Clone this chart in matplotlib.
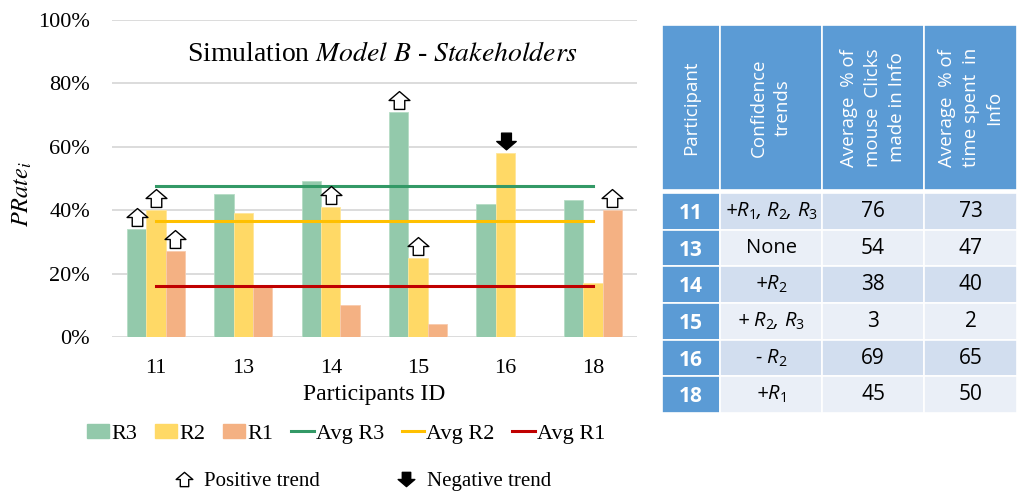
import numpy as np
import matplotlib
matplotlib.use("Agg")
import matplotlib.pyplot as plt
from matplotlib.path import Path
from matplotlib.patches import Patch, Rectangle
from matplotlib.lines import Line2D
from matplotlib.ticker import PercentFormatter
from matplotlib.transforms import offset_copy

# data
participants = ['11', '13', '14', '15', '16', '18']
r3 = [34, 45, 49, 71, 42, 43]
r2 = [40, 39, 41, 25, 58, 17]
r1 = [27, 16, 10, 4, 0, 40]
avg_r3 = 47.5
avg_r2 = 36.6
avg_r1 = 16.0

# trend markers (index of participant per series)
pos_r3 = [0, 3]
pos_r2 = [0, 2, 3]
pos_r1 = [0, 5]
neg_r2 = [4]

# table
trends = ['+$R_\\mathit{1}$, $R_\\mathit{2}$, $R_\\mathit{3}$', 'None', '+$R_\\mathit{2}$',
          '+ $R_\\mathit{2}$, $R_\\mathit{3}$', '- $R_\\mathit{2}$', '+$R_\\mathit{1}$']
clicks = [76, 54, 38, 3, 69, 45]
time_spent = [73, 47, 40, 2, 65, 50]
headers = ['Participant', 'Confidence\ntrends', 'Average  % of\nmouse  Clicks\nmade in Info',
           'Average  % of\ntime spent  in\nInfo']

plt.rcParams['font.family'] = ['Liberation Serif', 'DejaVu Serif']
plt.rcParams['mathtext.fontset'] = 'custom'
plt.rcParams['mathtext.rm'] = 'Open Sans'
plt.rcParams['mathtext.it'] = 'Open Sans:italic'
plt.rcParams['mathtext.bf'] = 'Open Sans:bold'

c_r3, c_r2, c_r1 = '#93C9AB', '#FFD966', '#F4B183'
c_a3, c_a2, c_a1 = '#339966', '#FFC000', '#C00000'

# arrow marker shapes
up_verts = [(0, 9), (10.5, 0), (5.3, 0), (5.3, -9), (-5.3, -9), (-5.3, 0), (-10.5, 0), (0, 9)]
up_arrow = Path(up_verts, closed=True)
down_arrow = Path([(x, -y) for x, y in up_verts], closed=True)

fig = plt.figure(figsize=(10.17, 4.94), dpi=100)
ax = fig.add_axes([0.1104, 0.3178, 0.5156, 0.6427])

x = np.arange(len(participants))
w = 0.222
ax.bar(x - w, r3, w, color=c_r3, edgecolor='#B5DCC5', lw=0.6, label='R3')
ax.bar(x, r2, w, color=c_r2, edgecolor='#FFE699', lw=0.6, label='R2')
ax.bar(x + w, r1, w, color=c_r1, edgecolor='#F8CBAD', lw=0.6, label='R1')

ax.plot(x, [avg_r3] * len(x), color=c_a3, lw=2.2)
ax.plot(x, [avg_r2] * len(x), color=c_a2, lw=2.2)
ax.plot(x, [avg_r1] * len(x), color=c_a1, lw=2.2)

# trend arrows above bars
tr = offset_copy(ax.transData, fig=fig, y=8.6, units='points')
for idx, vals, off in [(pos_r3, r3, -w), (pos_r2, r2, 0), (pos_r1, r1, w)]:
    for i in idx:
        ax.plot(x[i] + off, vals[i], marker=up_arrow, ms=15, mfc='white', mec='black',
                mew=1.0, transform=tr, clip_on=False, zorder=5)
for i in neg_r2:
    ax.plot(x[i], r2[i], marker=down_arrow, ms=14, mfc='black', mec='black',
            mew=1.0, transform=tr, clip_on=False, zorder=5)

ax.set_xlim(-0.5, 5.5)
ax.set_ylim(0, 100)
ax.set_yticks([0, 20, 40, 60, 80, 100])
ax.yaxis.set_major_formatter(PercentFormatter(xmax=100, decimals=0))
ax.set_xticks(x)
ax.set_xticklabels(participants)
ax.tick_params(length=0, labelsize=16)
ax.tick_params(axis='y', pad=16)
ax.tick_params(axis='x', pad=16)
ax.yaxis.grid(True, color='#D9D9D9', lw=1.3)
ax.set_axisbelow(True)
for s in ax.spines.values():
    s.set_visible(False)

ax.set_xlabel('Participants ID', fontsize=17, labelpad=4)
fig.text(22 / 1017, 1 - 194 / 494, '$PRate_i$', rotation=90, fontsize=17.5,
         ha='center', va='center', math_fontfamily='stix')
ax.text(0.516, 0.89, 'Simulation $Model\\ B$ - $Stakeholders$', transform=ax.transAxes,
        fontsize=20, ha='center', va='center', math_fontfamily='stix')

# legends
h1 = [Patch(color=c_r3), Patch(color=c_r2), Patch(color=c_r1),
      Line2D([], [], color=c_a3, lw=2.2), Line2D([], [], color=c_a2, lw=2.2),
      Line2D([], [], color=c_a1, lw=2.2)]
l1 = ['R3', 'R2', 'R1', 'Avg R3', 'Avg R2', 'Avg R1']
fig.legend(h1, l1, ncol=6, loc='center', bbox_to_anchor=(346 / 1017, 1 - 434 / 494),
           frameon=False, fontsize=16, handlelength=1.0, handleheight=0.58,
           handletextpad=0.1, columnspacing=0.8, borderpad=0)
h2 = [Line2D([], [], marker=up_arrow, ls='none', ms=12, mfc='white', mec='black', mew=1.0),
      Line2D([], [], marker=down_arrow, ls='none', ms=12, mfc='black', mec='black', mew=1.0)]
fig.legend(h2, ['Positive trend', 'Negative trend'], ncol=2, loc='center',
           bbox_to_anchor=(362 / 1017, 1 - 481 / 494), frameon=False, fontsize=15,
           handlelength=1.0, handletextpad=0.5, columnspacing=3.6, borderpad=0)

# table on the right, laid out in pixel units
tab = fig.add_axes([0, 0, 1, 1])
tab.set_xlim(0, 1017)
tab.set_ylim(494, 0)
tab.axis('off')
cols = [662, 720, 822, 924, 1017]
head_top, head_bot = 25, 190
body_top, body_bot = 193, 413
rh = (body_bot - body_top) / len(participants)
blue = '#5B9BD5'
band = ['#D2DEEF', '#EAEFF7']

for j in range(4):
    tab.add_patch(Rectangle((cols[j], head_top), cols[j + 1] - cols[j], head_bot - head_top,
                            facecolor=blue, edgecolor='white', lw=1.2))
    tab.text((cols[j] + cols[j + 1]) / 2, (head_top + head_bot) / 2, headers[j], rotation=90,
             ha='center', va='center', multialignment='center', color='white',
             fontsize=13.5, family='Open Sans', linespacing=1.4)

for i, p in enumerate(participants):
    y0 = body_top + i * rh
    cy = y0 + rh / 2
    for j in range(4):
        fc = blue if j == 0 else band[i % 2]
        tab.add_patch(Rectangle((cols[j], y0), cols[j + 1] - cols[j], rh,
                                facecolor=fc, edgecolor='white', lw=1.2))
    tab.text((cols[0] + cols[1]) / 2, cy + 2, p, ha='center', va='center', color='white',
             fontsize=15, family='Open Sans', weight='bold')
    style = 'normal' if trends[i] == 'None' else 'italic'
    tab.text((cols[1] + cols[2]) / 2, cy, trends[i], ha='center', va='center', color='black',
             fontsize=14.5, family='Open Sans', style=style, math_fontfamily='custom')
    tab.text((cols[2] + cols[3]) / 2, cy, str(clicks[i]), ha='center', va='center',
             color='black', fontsize=15, family='Open Sans')
    tab.text((cols[3] + cols[4]) / 2, cy, str(time_spent[i]), ha='center', va='center',
             color='black', fontsize=15, family='Open Sans')

fig.savefig('out.png', dpi=100)
